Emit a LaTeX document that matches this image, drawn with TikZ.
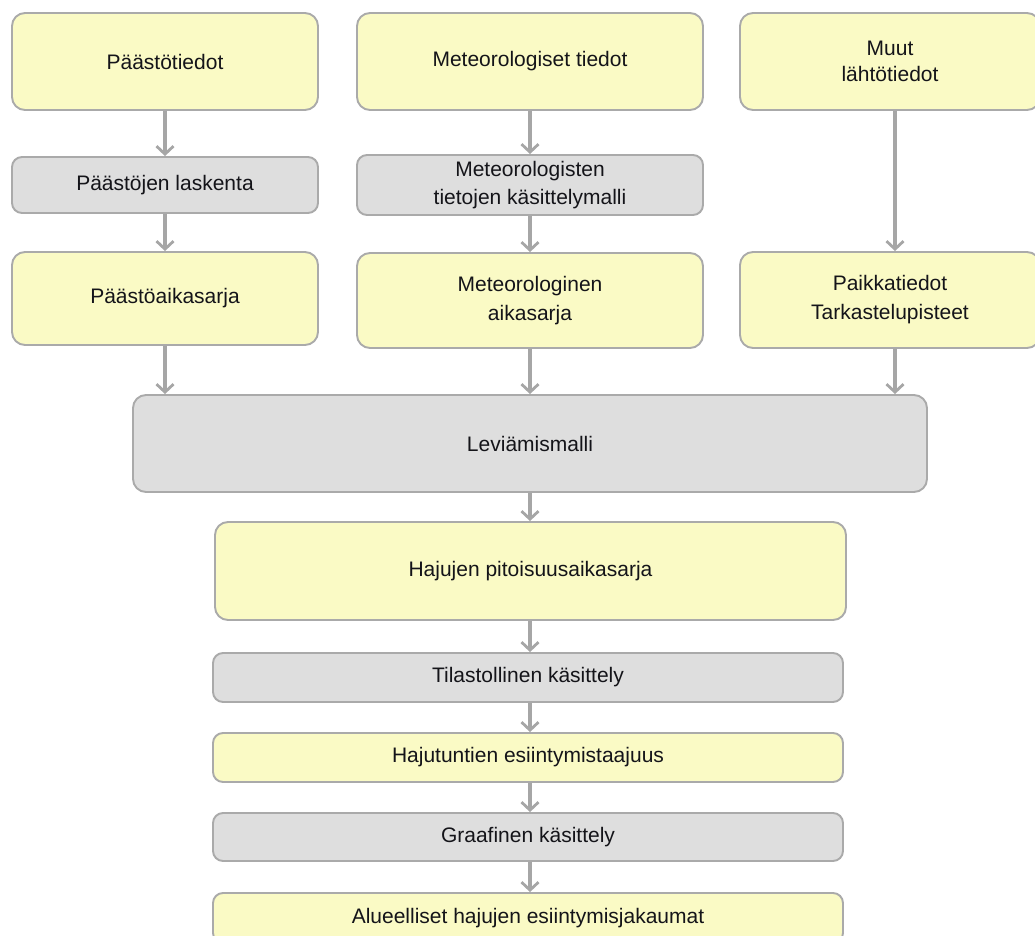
\documentclass[tikz,border=0pt]{standalone}
\usepackage{fontspec}
\setmainfont{Liberation Sans}
\usetikzlibrary{arrows.meta}
\definecolor{boxyellow}{RGB}{250,250,197}
\definecolor{boxgrey}{RGB}{222,222,222}
\definecolor{edgegrey}{RGB}{170,170,170}
\definecolor{arrowgrey}{RGB}{166,166,166}
\definecolor{txt}{RGB}{20,20,25}
\tikzset{
  basebox/.style={draw=edgegrey, line width=1.9pt, align=center, inner sep=0pt,
    text=txt, font=\fontsize{21}{29}\selectfont},
  ybox/.style={basebox, fill=boxyellow, rounded corners=13pt},
  gbox/.style={basebox, fill=boxgrey, rounded corners=10pt},
  flow/.style={draw=arrowgrey, line width=3.2pt,
    -{Straight Barb[length=8pt,width=17pt,line width=2.8pt]}}
}
\begin{document}
\begin{tikzpicture}[x=1pt,y=-1pt]
\useasboundingbox (0,0) rectangle (1035,936);
% left column
\node[ybox, minimum width=306, minimum height=97] (n1) at (165,61.5) {Päästötiedot};
\node[gbox, minimum width=306, minimum height=56] (n2) at (165,185) {Päästöjen laskenta};
\node[ybox, minimum width=306, minimum height=93] (n3) at (165,298.5) {Päästöaikasarja};
% middle column
\node[ybox, minimum width=346, minimum height=97] (m1) at (530,61.5) {Meteorologiset tiedot};
\node[gbox, minimum width=346, minimum height=60] (m2) at (530,185) {Meteorologisten\\[-1pt]tietojen käsittelymalli};
\node[ybox, minimum width=346, minimum height=95] (m3) at (530,300.5) {Meteorologinen\\aikasarja};
% right column
\node[ybox, minimum width=300, minimum height=97] (r1) at (890,61.5) {Muut\\[-3pt]lähtötiedot};
\node[ybox, minimum width=300, minimum height=96] (r2) at (890,300) {Paikkatiedot\\Tarkastelupisteet};
% center stack
\node[gbox, rounded corners=13pt, minimum width=794, minimum height=97] (L) at (530,443.5) {Leviämismalli};
\node[ybox, minimum width=631, minimum height=98] (H) at (530.5,571) {Hajujen pitoisuusaikasarja};
\node[gbox, minimum width=630, minimum height=49] (T) at (528,677.5) {Tilastollinen käsittely};
\node[ybox, rounded corners=10pt, minimum width=630, minimum height=49] (HT) at (528,757.5) {Hajutuntien esiintymistaajuus};
\node[gbox, minimum width=630, minimum height=48] (G) at (528,837) {Graafinen käsittely};
\node[ybox, rounded corners=10pt, minimum width=630, minimum height=50] (A) at (528,918) {Alueelliset hajujen esiintymisjakaumat};
% connectors
\draw[flow] (n1.south) -- (n2.north);
\draw[flow] (n2.south) -- (n3.north);
\draw[flow] (n3.south) -- (n3.south |- L.north);
\draw[flow] (m1.south) -- (m2.north);
\draw[flow] (m2.south) -- (m3.north);
\draw[flow] (m3.south) -- (m3.south |- L.north);
\draw[flow] ([xshift=5pt]r1.south) -- ([xshift=5pt]r2.north);
\draw[flow] ([xshift=5pt]r2.south) -- ([xshift=5pt]r2.south |- L.north);
\draw[flow] (L.south) -- (L.south |- H.north);
\draw[flow] (H.south -| L.south) -- (L.south |- T.north);
\draw[flow] (T.south -| L.south) -- (L.south |- HT.north);
\draw[flow] (HT.south -| L.south) -- (L.south |- G.north);
\draw[flow] (G.south -| L.south) -- (L.south |- A.north);
\end{tikzpicture}
\end{document}
